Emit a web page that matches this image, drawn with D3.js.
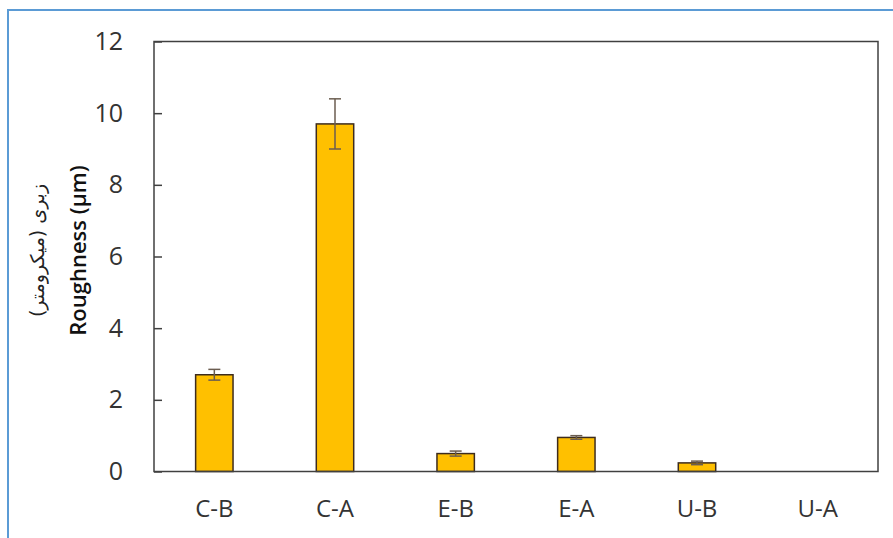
<!DOCTYPE html>
<html>
<head>
<meta charset="utf-8">
<script src="https://cdn.jsdelivr.net/npm/d3@7"></script>
<style>
  body { margin: 0; background: #fff; }
  svg { display: block; }
</style>
</head>
<body>
<div id="chart"></div>
<script>
// data
const categories = ['C-B', 'C-A', 'E-B', 'E-A', 'U-B', 'U-A'];
const roughness = [2.7, 9.7, 0.5, 0.95, 0.24, 0];
const errors = [0.15, 0.7, 0.07, 0.05, 0.05, 0];
const yTicks = [0, 2, 4, 6, 8, 10, 12];

const width = 893, height = 538;
const margin = { top: 41.5, right: 15, bottom: 66.5, left: 154 };
const innerW = width - margin.left - margin.right;
const innerH = height - margin.top - margin.bottom;

const svg = d3.select('#chart')
  .append('svg')
  .attr('width', width)
  .attr('height', height);

// outer blue frame (runs past the right edge in the reference)
svg.append('rect')
  .attr('x', 8)
  .attr('y', 10)
  .attr('width', width + 10)
  .attr('height', height + 10)
  .attr('fill', 'none')
  .attr('stroke', '#5b9bd5')
  .attr('stroke-width', 2);

const chart = svg.append('g')
  .attr('transform', `translate(${margin.left},${margin.top})`);

const x = d3.scaleBand()
  .domain(categories)
  .range([0, innerW])
  .paddingInner(0.69)
  .paddingOuter(0.345);

const y = d3.scaleLinear()
  .domain([0, 12])
  .range([innerH, 0]);

// y axis: ticks point into the plot
const yAxis = d3.axisLeft(y)
  .tickValues(yTicks)
  .tickSize(-8)
  .tickPadding(31);

const yAxisG = chart.append('g')
  .attr('class', 'axis y-axis')
  .call(yAxis);
yAxisG.select('.domain').remove();
yAxisG.selectAll('line')
  .attr('stroke', '#404040')
  .attr('stroke-width', 1.5);
yAxisG.selectAll('text')
  .attr('font-family', 'Open Sans, sans-serif')
  .attr('font-size', 25)
  .attr('fill', '#333');

// x axis labels only
const xAxis = d3.axisBottom(x).tickSize(0).tickPadding(28);
const xAxisG = chart.append('g')
  .attr('class', 'axis x-axis')
  .attr('transform', `translate(0,${innerH})`)
  .call(xAxis);
xAxisG.select('.domain').remove();
xAxisG.selectAll('text')
  .attr('font-family', 'Open Sans, sans-serif')
  .attr('font-size', 24)
  .attr('fill', '#333');

// bars
chart.append('g')
  .selectAll('rect')
  .data(categories.filter((c, i) => roughness[i] > 0))
  .join('rect')
  .attr('x', (d) => x(d))
  .attr('y', (d) => y(roughness[categories.indexOf(d)]))
  .attr('width', x.bandwidth())
  .attr('height', (d) => innerH - y(roughness[categories.indexOf(d)]))
  .attr('fill', '#ffc000')
  .attr('stroke', '#3d2c1e')
  .attr('stroke-width', 1.5);

// error bars
const errG = chart.append('g')
  .selectAll('g')
  .data(categories.map((c, i) => ({ c, v: roughness[i], e: errors[i] })).filter((d) => d.e > 0))
  .join('g')
  .attr('stroke', '#6b5d50')
  .attr('stroke-width', 1.5);
const cx = (d) => x(d.c) + x.bandwidth() / 2;
errG.append('line')
  .attr('x1', cx).attr('x2', cx)
  .attr('y1', (d) => y(d.v + d.e))
  .attr('y2', (d) => y(d.v - d.e));
errG.append('line')
  .attr('x1', (d) => cx(d) - 6).attr('x2', (d) => cx(d) + 6)
  .attr('y1', (d) => y(d.v + d.e)).attr('y2', (d) => y(d.v + d.e));
errG.append('line')
  .attr('x1', (d) => cx(d) - 6).attr('x2', (d) => cx(d) + 6)
  .attr('y1', (d) => y(d.v - d.e)).attr('y2', (d) => y(d.v - d.e));

// plot frame
chart.append('rect')
  .attr('width', innerW)
  .attr('height', innerH)
  .attr('fill', 'none')
  .attr('stroke', '#404040')
  .attr('stroke-width', 1.5);

// y axis titles
const midY = margin.top + innerH / 2 - 6;
svg.append('text')
  .attr('transform', `translate(86,${midY}) rotate(-90)`)
  .attr('text-anchor', 'middle')
  .attr('font-family', 'Open Sans, sans-serif')
  .attr('font-size', 22)
  .attr('font-weight', 600)
  .attr('fill', '#111')
  .text('Roughness (µm)');

svg.append('text')
  .attr('transform', `translate(44,${midY}) rotate(-90)`)
  .attr('text-anchor', 'middle')
  .attr('font-family', 'DejaVu Sans, sans-serif')
  .attr('font-size', 19)
  .attr('fill', '#222')
  .text('زبری (میکرومتر)');
</script>
</body>
</html>
